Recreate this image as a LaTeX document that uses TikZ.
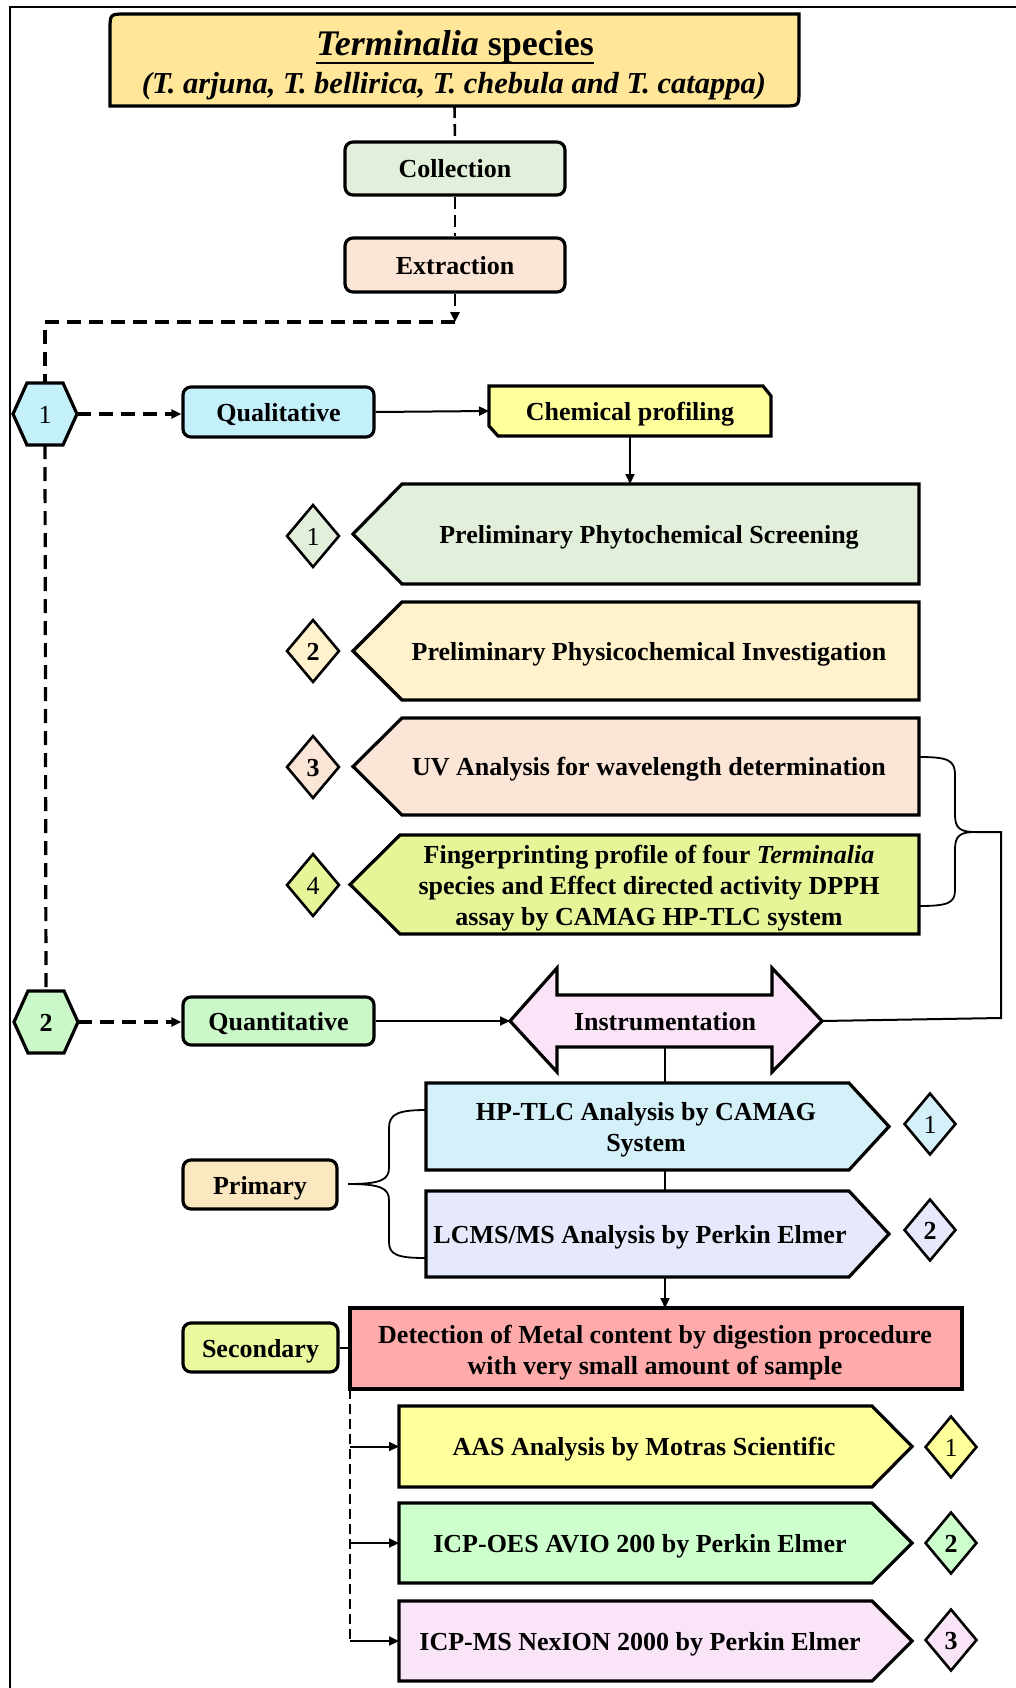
\documentclass[tikz,border=0pt]{standalone}
\usepackage{fontspec}
\setmainfont{Liberation Serif}
\usetikzlibrary{arrows.meta,shapes.geometric}
\definecolor{titleF}{HTML}{FFE699}
\definecolor{collF}{HTML}{E2EFDA}
\definecolor{extrF}{HTML}{FBE5D6}
\definecolor{qualF}{HTML}{C4F0FA}
\definecolor{chemF}{HTML}{FFFF9C}
\definecolor{ppiF}{HTML}{FFF2CC}
\definecolor{fingF}{HTML}{E5F597}
\definecolor{quantF}{HTML}{CBF8C8}
\definecolor{instrF}{HTML}{FCE4F8}
\definecolor{hptlcF}{HTML}{D4F1FA}
\definecolor{lcmsF}{HTML}{E6E9FB}
\definecolor{primF}{HTML}{FBE8C0}
\definecolor{detF}{HTML}{FFABAB}
\definecolor{secF}{HTML}{E9FA9E}
\definecolor{aasF}{HTML}{FFFF9C}
\definecolor{oesF}{HTML}{CCFFCC}
\definecolor{msF}{HTML}{F9E4F8}
\newcommand\bodyfont{\fontsize{26}{31}\selectfont\bfseries}
\newcommand\numreg{\fontsize{26}{31}\selectfont}
\begin{document}
\begin{tikzpicture}[x=1pt,y=-1pt,
 outline/.style={draw=black, line width=3.2, line join=miter},
 body/.style={inner sep=0, outer sep=0},
 one/.style={text height=19, text depth=0},
 rbox/.style={draw=black, line width=3.2, rounded corners=8, inner sep=0, font=\bodyfont, one},
 txt/.style={font=\bodyfont, align=center, inner sep=0, yshift=-3},
 arr/.style={line width=2, -{Triangle[length=10,width=9]}},
 conn/.style={line width=2},
 dsh/.style={line width=3.2, dash pattern=on 14 off 8},
 dshthin/.style={line width=2.6, dash pattern=on 12 off 6},
 dshar/.style={line width=3.2, dash pattern=on 14 off 8, -{Triangle[length=10,width=9]}},
 dia/.style={diamond, draw=black, line width=2.6, minimum width=53, minimum height=63, inner sep=0, font=\bodyfont, one},
]
\useasboundingbox (0,0) rectangle (1016,1688);
\fill[white] (0,0) rectangle (1016,1688);
% frame
\draw[line width=2] (10,1688) -- (10,7) -- (1016,7);

% ---------- title
\path[outline, fill=titleF] (110,106) -- (110,30) .. controls (110,14) .. (126,14) -- (799,14) -- (799,90) .. controls (799,106) .. (783,106) -- cycle;
\node[body, minimum width=689, minimum height=92] (title) at (454.5,60) {};
\node[anchor=base, inner sep=0, font=\fontsize{36}{40}\selectfont\bfseries] (tl1) at (455,56) {\textit{Terminalia} species};
\draw[line width=2.5] ([yshift=-7]tl1.base west) -- ([yshift=-7]tl1.base east);
\node[anchor=base, inner sep=0, font=\fontsize{30.5}{34}\selectfont\bfseries\itshape] (tl2) at (454,94) {(T. arjuna, T. bellirica, T. chebula and T. catappa)};

% ---------- collection / extraction
\node[rbox, fill=collF, minimum width=220, minimum height=53] (coll) at (455,168.5) {Collection};
\node[rbox, fill=extrF, minimum width=220, minimum height=54] (extr) at (455,265) {Extraction};

% ---------- hexagons
\path[outline, fill=qualF] (13,414) -- (27,383) -- (63,383) -- (77,414) -- (63,445) -- (27,445) -- cycle;
\node[body, one, minimum width=64, minimum height=62, font=\numreg] (hexone) at (45,414) {1};
\path[outline, fill=quantF] (14,1022) -- (28,991) -- (64,991) -- (78,1022) -- (64,1053) -- (28,1053) -- cycle;
\node[body, one, minimum width=64, minimum height=62, font=\bodyfont] (hextwo) at (46,1022) {2};

% ---------- qualitative branch
\node[rbox, fill=qualF, minimum width=191, minimum height=50] (qual) at (278.5,412) {Qualitative};
\path[outline, fill=chemF] (489,386) -- (763,386) -- (771,396) -- (771,436) -- (498,436) -- (489,426) -- cycle;
\node[body, one, minimum width=282, minimum height=50, font=\bodyfont] (chem) at (630,411) {Chemical profiling};

% left pentagons
\path[outline, fill=collF] (919,484) -- (919,584) -- (402,584) -- (353,534) -- (402,484) -- cycle;
\node[body, minimum width=517, minimum height=100] (pps) at (660.5,534) {};
\node[txt] (ppst) at (649,534) {Preliminary Phytochemical Screening};

\path[outline, fill=ppiF] (919,602) -- (919,700) -- (402,700) -- (353,651) -- (402,602) -- cycle;
\node[body, minimum width=517, minimum height=98] (ppi) at (660.5,651) {};
\node[txt] (ppit) at (649,651) {Preliminary Physicochemical Investigation};

\path[outline, fill=extrF] (919,718) -- (919,815) -- (402,815) -- (353,766.5) -- (402,718) -- cycle;
\node[body, minimum width=517, minimum height=97] (uv) at (660.5,766.5) {};
\node[txt] (uvt) at (649,766.5) {UV Analysis for wavelength determination};

\path[outline, fill=fingF] (919,835) -- (919,934) -- (400,934) -- (350,884.5) -- (400,835) -- cycle;
\node[body, minimum width=519, minimum height=99] (fing) at (659.5,884.5) {};
\node[txt] (fingt) at (649,885) {Fingerprinting profile of four \textit{Terminalia}\\species and Effect directed activity DPPH\\assay by CAMAG HP-TLC system};

% left diamonds
\node[dia, fill=collF, font=\numreg] (dl1) at (313,536) {1};
\node[dia, fill=ppiF] (dl2) at (313,651) {2};
\node[dia, fill=extrF] (dl3) at (313,767) {3};
\node[dia, fill=fingF, font=\numreg] (dl4) at (313,885) {4};

% ---------- quantitative branch
\node[rbox, fill=quantF, minimum width=191, minimum height=48] (quant) at (278.5,1021) {Quantitative};
\path[outline, fill=instrF] (510,1021) -- (557,968) -- (557,995) -- (772,995) -- (772,968) -- (822,1021) -- (772,1072) -- (772,1047) -- (557,1047) -- (557,1072) -- cycle;
\node[body, one, minimum width=215, minimum height=52, font=\bodyfont] (instr) at (665,1021) {Instrumentation};
\coordinate (instrL) at (510,1021);
\coordinate (instrR) at (822,1021);

% right pentagons (primary)
\path[outline, fill=hptlcF] (426,1083) -- (849,1083) -- (889,1126.5) -- (849,1170) -- (426,1170) -- cycle;
\node[body, minimum width=423, minimum height=87] (hptlc) at (637.5,1126.5) {};
\node[txt] (hptlct) at (646,1127) {HP-TLC Analysis by CAMAG\\System};

\path[outline, fill=lcmsF] (426,1191) -- (849,1191) -- (889,1234) -- (849,1277) -- (426,1277) -- cycle;
\node[body, minimum width=423, minimum height=86] (lcms) at (637.5,1234) {};
\node[txt] (lcmst) at (640,1234) {LCMS/MS Analysis by Perkin Elmer};

\node[dia, fill=hptlcF, minimum width=52, minimum height=62, font=\numreg] (dr1) at (930,1124) {1};
\node[dia, fill=lcmsF, minimum width=52, minimum height=62] (dr2) at (930,1230) {2};

\node[rbox, fill=primF, minimum width=154, minimum height=49] (prim) at (260,1184.5) {Primary};

% secondary
\node[body, draw=black, line width=3.2, fill=detF, minimum width=612, minimum height=81] (det) at (656,1348.5) {};
\node[txt] (dett) at (655,1350) {Detection of Metal content by digestion procedure\\with very small amount of sample};
\node[rbox, fill=secF, minimum width=155, minimum height=49] (sec) at (260.5,1347.5) {Secondary};

\path[outline, fill=aasF] (399,1406) -- (872,1406) -- (912,1446.5) -- (872,1487) -- (399,1487) -- cycle;
\node[body, minimum width=473, minimum height=81] (aas) at (635.5,1446.5) {};
\node[txt] (aast) at (644,1446.5) {AAS Analysis by Motras Scientific};

\path[outline, fill=oesF] (399,1503) -- (872,1503) -- (912,1543) -- (872,1583) -- (399,1583) -- cycle;
\node[body, minimum width=473, minimum height=80] (oes) at (635.5,1543) {};
\node[txt] (oest) at (640,1543) {ICP-OES AVIO 200 by Perkin Elmer};

\path[outline, fill=msF] (399,1601) -- (872,1601) -- (912,1641) -- (872,1681) -- (399,1681) -- cycle;
\node[body, minimum width=473, minimum height=80] (ms) at (635.5,1641) {};
\node[txt] (mst) at (640,1641) {ICP-MS NexION 2000 by Perkin Elmer};

\node[dia, fill=aasF, minimum width=52, minimum height=62, font=\numreg] (ds1) at (951,1447) {1};
\node[dia, fill=oesF, minimum width=52, minimum height=62] (ds2) at (951,1543) {2};
\node[dia, fill=msF, minimum width=52, minimum height=62] (ds3) at (951,1640) {3};

% ---------- connectors
\draw[dshthin] (title.south) -- (coll.north);
\draw[dshthin] (coll.south) -- (extr.north);
\coordinate (split) at (455,322);
\draw[dshthin, -{Triangle[length=10,width=9]}] (extr.south) -- (split);
\draw[dsh] (split) -| (hexone.north);
\draw[dsh] (hexone.south) -- (hextwo.north);
\draw[dshar] (hexone.east) -- (hexone.east -| qual.west);
\draw[dshar] (hextwo.east) -- (hextwo.east -| quant.west);
\draw[arr] (qual.east) -- (chem.west);
\draw[arr] (chem.south) -- (chem.south |- pps.north);
\draw[arr] (quant.east) -- (instrL);

% brace UV / fingerprint
\coordinate (bracetip) at (975,832);
\draw[line width=1.8] (919,757) .. controls (948,757) and (955,760) .. (955,775) -- (955,815)
  .. controls (955,828) and (960,832) .. (bracetip)
  .. controls (960,832) and (955,836) .. (955,849) -- (955,890)
  .. controls (955,903) and (948,906) .. (919,906);
\draw[conn] (bracetip) -- (1001,832) -- (1001,1018) -- (instrR);

\draw[conn] (instr.south) -- (instr.south |- hptlc.north);
\draw[conn] (instr.south |- hptlc.south) -- (instr.south |- lcms.north);
\draw[arr] (instr.south |- lcms.south) -- (instr.south |- det.north);

% brace primary
\coordinate (primtip) at (348,1184);
\draw[line width=1.8] (426,1110) .. controls (398,1110) and (389,1114) .. (389,1128) -- (389,1168)
  .. controls (389,1180) and (380,1184) .. (primtip)
  .. controls (380,1184) and (389,1188) .. (389,1200) -- (389,1242)
  .. controls (389,1255) and (398,1258) .. (426,1258);

\draw[conn] (sec.east) -- (sec.east -| det.west);
\draw[line width=2, dash pattern=on 10 off 5] (det.south west) -- (det.south west |- ms.west);
\draw[arr] (det.south west |- aas.west) -- (aas.west);
\draw[arr] (det.south west |- oes.west) -- (oes.west);
\draw[arr] (det.south west |- ms.west) -- (ms.west);
\end{tikzpicture}
\end{document}
